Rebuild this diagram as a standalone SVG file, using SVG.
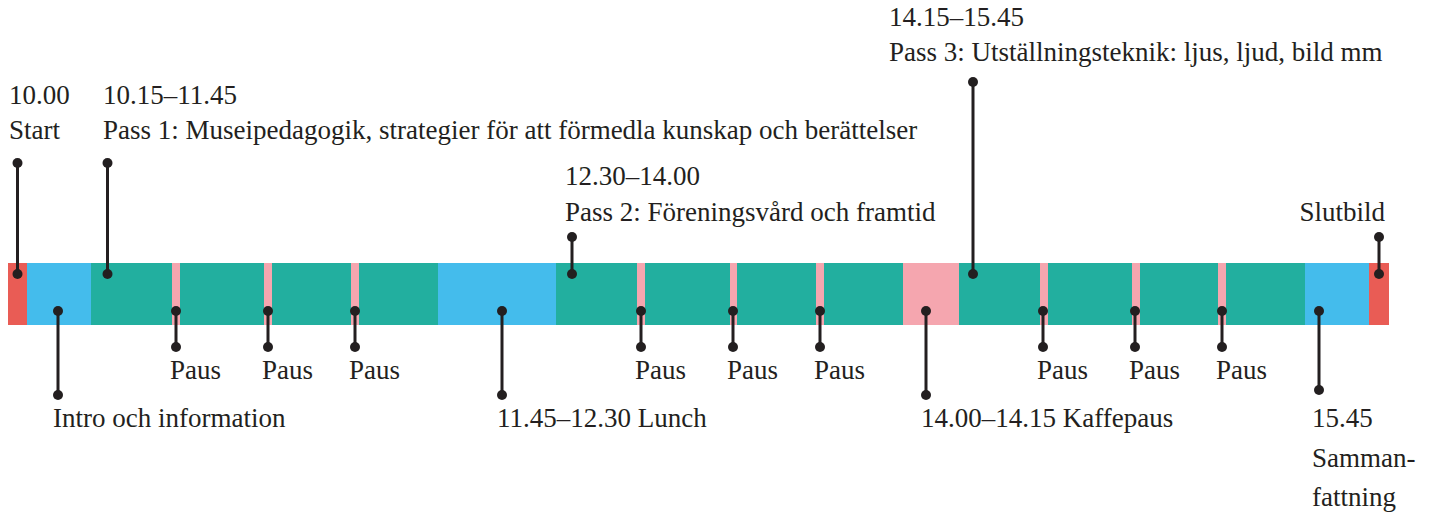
<svg xmlns="http://www.w3.org/2000/svg" width="1446" height="516" viewBox="0 0 1446 516">
<style>
text{font-family:"Liberation Serif","Times New Roman",serif;font-size:27px;fill:#231F20}
.r{fill:#E95C55}.b{fill:#44BCEC}.g{fill:#22AF9F}.p{fill:#F5A6AF}
.c line{stroke:#231F20;stroke-width:3}
.c circle{fill:#231F20}
</style>
<rect width="1446" height="516" fill="#fff"/>
<g id="bar">
<rect class="r" x="8" y="263" width="19" height="62"/>
<rect class="b" x="27" y="263" width="64" height="62"/>
<rect class="g" x="91" y="263" width="81" height="62"/>
<rect class="p" x="172" y="263" width="8" height="62"/>
<rect class="g" x="180" y="263" width="84" height="62"/>
<rect class="p" x="264" y="263" width="8" height="62"/>
<rect class="g" x="272" y="263" width="79" height="62"/>
<rect class="p" x="351" y="263" width="8" height="62"/>
<rect class="g" x="359" y="263" width="79" height="62"/>
<rect class="b" x="438" y="263" width="118" height="62"/>
<rect class="g" x="556" y="263" width="81" height="62"/>
<rect class="p" x="637" y="263" width="8" height="62"/>
<rect class="g" x="645" y="263" width="85" height="62"/>
<rect class="p" x="730" y="263" width="7" height="62"/>
<rect class="g" x="737" y="263" width="79" height="62"/>
<rect class="p" x="816" y="263" width="8" height="62"/>
<rect class="g" x="824" y="263" width="79" height="62"/>
<rect class="p" x="903" y="263" width="56" height="62"/>
<rect class="g" x="959" y="263" width="81" height="62"/>
<rect class="p" x="1040" y="263" width="8" height="62"/>
<rect class="g" x="1048" y="263" width="84" height="62"/>
<rect class="p" x="1132" y="263" width="8" height="62"/>
<rect class="g" x="1140" y="263" width="78" height="62"/>
<rect class="p" x="1218" y="263" width="8" height="62"/>
<rect class="g" x="1226" y="263" width="79" height="62"/>
<rect class="b" x="1305" y="263" width="64" height="62"/>
<rect class="r" x="1369" y="263" width="20" height="62"/>
</g>
<g id="connectors" class="c">
<line x1="17.5" y1="163" x2="17.5" y2="274"/><circle cx="17.5" cy="163" r="5"/><circle cx="17.5" cy="274" r="5"/>
<line x1="107.5" y1="163" x2="107.5" y2="274"/><circle cx="107.5" cy="163" r="5"/><circle cx="107.5" cy="274" r="5"/>
<line x1="572" y1="237" x2="572" y2="274"/><circle cx="572" cy="237" r="5"/><circle cx="572" cy="274" r="5"/>
<line x1="973" y1="82" x2="973" y2="274"/><circle cx="973" cy="82" r="5"/><circle cx="973" cy="274" r="5"/>
<line x1="1379" y1="237" x2="1379" y2="274"/><circle cx="1379" cy="237" r="5"/><circle cx="1379" cy="274" r="5"/>
<line x1="58" y1="311" x2="58" y2="395"/><circle cx="58" cy="311" r="5"/><circle cx="58" cy="395" r="5"/>
<line x1="502" y1="311" x2="502" y2="395"/><circle cx="502" cy="311" r="5"/><circle cx="502" cy="395" r="5"/>
<line x1="926" y1="311" x2="926" y2="395"/><circle cx="926" cy="311" r="5"/><circle cx="926" cy="395" r="5"/>
<line x1="1319" y1="311" x2="1319" y2="390"/><circle cx="1319" cy="311" r="5"/><circle cx="1319" cy="390" r="5"/>
<line x1="176" y1="311" x2="176" y2="347"/><circle cx="176" cy="311" r="5"/><circle cx="176" cy="347" r="5"/>
<line x1="268" y1="311" x2="268" y2="347"/><circle cx="268" cy="311" r="5"/><circle cx="268" cy="347" r="5"/>
<line x1="355" y1="311" x2="355" y2="347"/><circle cx="355" cy="311" r="5"/><circle cx="355" cy="347" r="5"/>
<line x1="641" y1="311" x2="641" y2="347"/><circle cx="641" cy="311" r="5"/><circle cx="641" cy="347" r="5"/>
<line x1="733" y1="311" x2="733" y2="347"/><circle cx="733" cy="311" r="5"/><circle cx="733" cy="347" r="5"/>
<line x1="820" y1="311" x2="820" y2="347"/><circle cx="820" cy="311" r="5"/><circle cx="820" cy="347" r="5"/>
<line x1="1043" y1="311" x2="1043" y2="347"/><circle cx="1043" cy="311" r="5"/><circle cx="1043" cy="347" r="5"/>
<line x1="1135" y1="311" x2="1135" y2="347"/><circle cx="1135" cy="311" r="5"/><circle cx="1135" cy="347" r="5"/>
<line x1="1222" y1="311" x2="1222" y2="347"/><circle cx="1222" cy="311" r="5"/><circle cx="1222" cy="347" r="5"/>
</g>
<g id="start"><text x="9" y="104">10.00</text><text x="9" y="139">Start</text></g>
<g id="pass1"><text x="103" y="104">10.15–11.45</text><text x="103" y="139">Pass 1: Museipedagogik, strategier för att förmedla kunskap och berättelser</text></g>
<g id="pass2"><text x="565" y="185">12.30–14.00</text><text x="565" y="221">Pass 2: Föreningsvård och framtid</text></g>
<g id="pass3"><text x="889" y="26">14.15–15.45</text><text x="889" y="61">Pass 3: Utställningsteknik: ljus, ljud, bild mm</text></g>
<g id="slutbild"><text x="1385" y="221" text-anchor="end">Slutbild</text></g>
<g id="intro"><text x="53" y="427">Intro och information</text></g>
<g id="lunch"><text x="497" y="427">11.45–12.30 Lunch</text></g>
<g id="kaffepaus"><text x="921" y="427">14.00–14.15 Kaffepaus</text></g>
<g id="sammanfattning"><text x="1312" y="427">15.45</text><text x="1312" y="467">Samman-</text><text x="1312" y="506">fattning</text></g>
<g id="paus1"><text x="170" y="379">Paus</text></g>
<g id="paus2"><text x="262" y="379">Paus</text></g>
<g id="paus3"><text x="349" y="379">Paus</text></g>
<g id="paus4"><text x="635" y="379">Paus</text></g>
<g id="paus5"><text x="727" y="379">Paus</text></g>
<g id="paus6"><text x="814" y="379">Paus</text></g>
<g id="paus7"><text x="1037" y="379">Paus</text></g>
<g id="paus8"><text x="1129" y="379">Paus</text></g>
<g id="paus9"><text x="1216" y="379">Paus</text></g>
</svg>
